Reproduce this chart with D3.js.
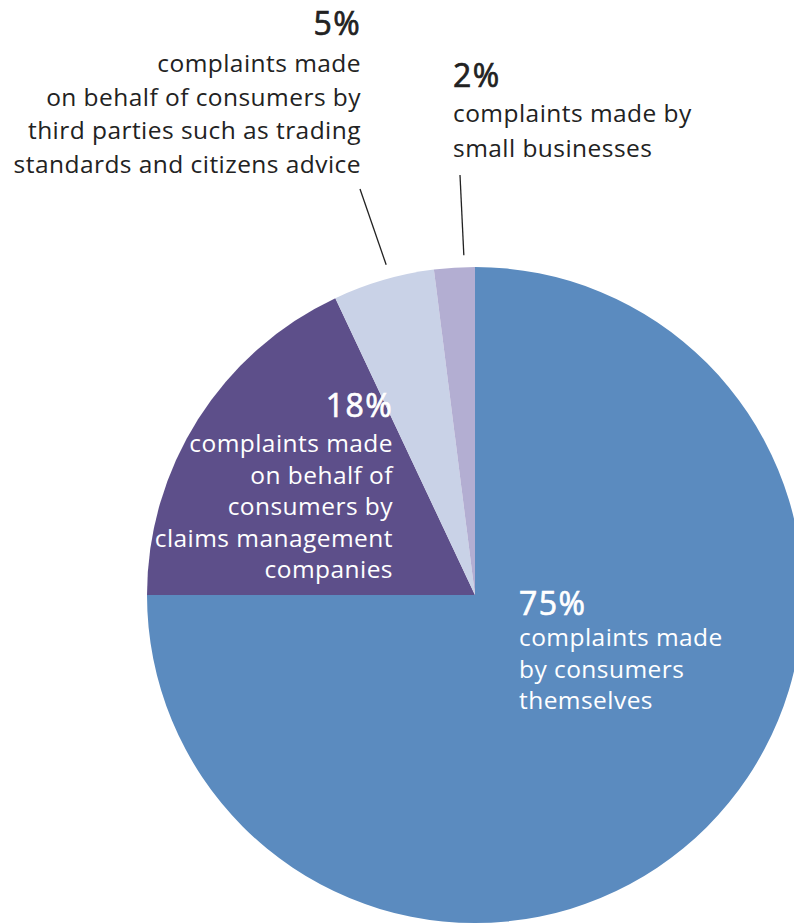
<!DOCTYPE html>
<html>
<head>
<meta charset="utf-8">
<script src="https://cdn.jsdelivr.net/npm/d3@7"></script>
<style>
  html, body { margin: 0; padding: 0; background: #fff; }
  svg { display: block; }
</style>
</head>
<body>
<svg id="chart" width="794" height="923"></svg>
<script>
// Who brings complaints: share of complaints by source
const categories = [
  "complaints made by consumers themselves",
  "complaints made on behalf of consumers by claims management companies",
  "complaints made on behalf of consumers by third parties such as trading standards and citizens advice",
  "complaints made by small businesses"
];
const values = [75, 18, 5, 2];
const percentLabels = ["75%", "18%", "5%", "2%"];
const labelLines = [
  ["complaints made", "by consumers", "themselves"],
  ["complaints made", "on behalf of", "consumers by", "claims management", "companies"],
  ["complaints made", "on behalf of consumers by", "third parties such as trading", "standards and citizens advice"],
  ["complaints made by", "small businesses"]
];
const colors = ["#5b8bbf", "#5d4f8a", "#c9d2e7", "#b3aed2"];

const svg = d3.select("#chart");
const cx = 475, cy = 595, radius = 328;
const font = "'Open Sans', 'Noto Sans', sans-serif";

const pie = d3.pie().sort(null).value(d => d);
const arcs = pie(values);
const arc = d3.arc().innerRadius(0).outerRadius(radius);

const g = svg.append("g").attr("transform", `translate(${cx},${cy})`);
g.selectAll("path")
  .data(arcs)
  .join("path")
  .attr("d", arc)
  .attr("fill", (d, i) => colors[i]);

// Label placement: [x, percent baseline, first text baseline, line step, anchor, colour]
const labelPos = [
  [519, 615, 646, 31.5, "start", "#fff"],
  [393, 417, 452, 31.5, "end", "#fff"],
  [361, 35, 72, 33.5, "end", "#222"],
  [453, 87, 122, 35, "start", "#222"]
];

labelPos.forEach((p, i) => {
  const [x, yPct, y0, step, anchor, col] = p;
  const t = svg.append("g").attr("fill", col).attr("font-family", font).attr("text-anchor", anchor);
  t.append("text")
    .attr("x", x).attr("y", yPct)
    .attr("font-size", 32).attr("font-weight", 400)
    .attr("stroke", col).attr("stroke-width", 0.7)
    .attr("letter-spacing", 1.4)
    .text(percentLabels[i]);
  t.selectAll("text.line")
    .data(labelLines[i])
    .join("text")
    .attr("class", "line")
    .attr("x", x)
    .attr("y", (d, j) => y0 + j * step)
    .attr("font-size", 24.5)
    .attr("letter-spacing", 0.45)
    .text(d => d);
});

// Leader lines from the outer labels down to their slices
const mid2 = (arcs[2].startAngle + arcs[2].endAngle) / 2;
const mid3 = (arcs[3].startAngle + arcs[3].endAngle) / 2;
const edge = (a, r) => [cx + Math.sin(a) * r, cy - Math.cos(a) * r];
const leaders = [
  [[360, 189], edge(mid2 + 0.02, radius + 14)],
  [[460, 175], edge(mid3 + 0.03, radius + 12)]
];
svg.selectAll("line.leader")
  .data(leaders)
  .join("line")
  .attr("class", "leader")
  .attr("x1", d => d[0][0]).attr("y1", d => d[0][1])
  .attr("x2", d => d[1][0]).attr("y2", d => d[1][1])
  .attr("stroke", "#222").attr("stroke-width", 1.3);
</script>
</body>
</html>
